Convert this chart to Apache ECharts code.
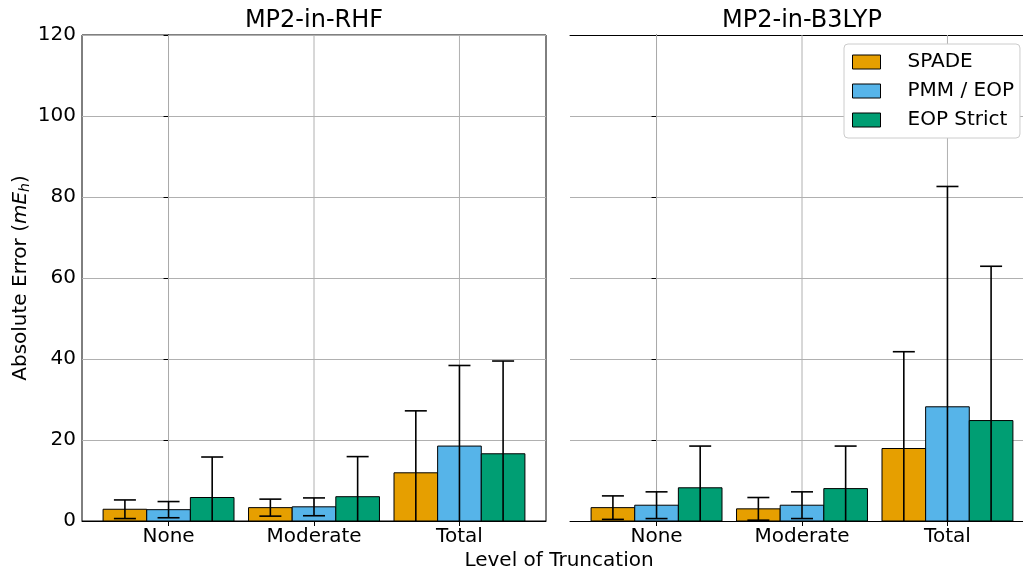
<!DOCTYPE html>
<html>
<head>
<meta charset="utf-8">
<script src="https://cdn.jsdelivr.net/npm/echarts@6/dist/echarts.min.js"></script>
<style>html,body{margin:0;padding:0;background:#fff;overflow:hidden}#c{width:1023px;height:568px}</style>
</head>
<body>
<div id="c"></div>
<script>
// ---- data ----
const categories = ['None', 'Moderate', 'Total'];
const seriesNames = ['SPADE', 'PMM / EOP', 'EOP Strict'];
const panelTitles = ['MP2-in-RHF', 'MP2-in-B3LYP'];
const yTicks = [0, 20, 40, 60, 80, 100, 120];

const rhfSpade = [2.9, 3.3, 11.9];
const rhfSpadeErr = [2.3, 2.1, 15.3];
const rhfPmm = [2.8, 3.5, 18.5];
const rhfPmmErr = [2.0, 2.2, 19.9];
const rhfEop = [5.8, 6.0, 16.6];
const rhfEopErr = [10.0, 9.9, 22.9];

const b3Spade = [3.3, 3.0, 17.9];
const b3SpadeErr = [2.9, 2.8, 23.9];
const b3Pmm = [3.9, 3.9, 28.2];
const b3PmmErr = [3.3, 3.3, 54.4];
const b3Eop = [8.2, 8.0, 24.8];
const b3EopErr = [10.3, 10.5, 38.1];

// ---- styling / layout ----
const colors = ['#E69F00', '#56B4E9', '#009E73'];
const FONT = 'DejaVu Sans';
const BAR_W = 0.3;
const CAP_PX = 11;
const gridLineColor = '#b0b0b0';
const X_MIN = -0.595, X_MAX = 2.595;
const PANEL_W = 464;
// the right panel is cut off by the figure edge: show only the visible part of its x range
const RIGHT_VISIBLE_W = 453;
const RIGHT_X_MAX = X_MIN + (X_MAX - X_MIN) * RIGHT_VISIBLE_W / PANEL_W;

const panels = [
  { values: [rhfSpade, rhfPmm, rhfEop], errors: [rhfSpadeErr, rhfPmmErr, rhfEopErr] },
  { values: [b3Spade, b3Pmm, b3Eop], errors: [b3SpadeErr, b3PmmErr, b3EopErr] }
];

const grids = [
  { left: 82, top: 35, width: PANEL_W, height: 486, show: true, borderColor: '#000', borderWidth: 1, backgroundColor: 'transparent' },
  { left: 570, top: 35, width: RIGHT_VISIBLE_W, height: 486, show: false }
];

const xAxes = grids.map((g, gi) => ({
  type: 'value', gridIndex: gi, min: X_MIN, max: gi === 0 ? X_MAX : RIGHT_X_MAX,
  axisLine: { show: true, lineStyle: { color: '#000', width: 1 } },
  axisTick: { show: true, length: 5, customValues: categories.map((c, i) => i), lineStyle: { color: '#000' } },
  axisLabel: { show: true, customValues: categories.map((c, i) => i), formatter: v => categories[Math.round(v)] || '',
               color: '#000', fontSize: 20, fontFamily: FONT, margin: 6 },
  splitLine: { show: false }
}));
// top spine of the right panel
xAxes.push({
  type: 'value', gridIndex: 1, position: 'top', min: X_MIN, max: RIGHT_X_MAX,
  axisLine: { show: true, lineStyle: { color: '#000', width: 1 } },
  axisTick: { show: false }, axisLabel: { show: false }, splitLine: { show: false }
});

const yAxes = grids.map((g, gi) => ({
  type: 'value', gridIndex: gi, min: yTicks[0], max: yTicks[yTicks.length - 1], interval: yTicks[1] - yTicks[0],
  axisLine: { show: true, lineStyle: { color: '#000', width: 1 } },
  axisTick: { show: true, length: 5, lineStyle: { color: '#000' } },
  axisLabel: { show: gi === 0, color: '#000', fontSize: 20, fontFamily: FONT, margin: 6 },
  splitLine: { show: true, lineStyle: { color: gridLineColor, width: 1 } },
  name: gi === 0 ? 'Absolute Error ({it|mE}{sub|h})' : '',
  nameLocation: 'middle', nameGap: 50, nameRotate: 90,
  nameTextStyle: {
    color: '#000', fontSize: 20, fontFamily: FONT,
    rich: {
      it: { fontStyle: 'italic', fontSize: 20, fontFamily: FONT, color: '#000' },
      sub: { fontStyle: 'italic', fontSize: 14, fontFamily: FONT, color: '#000', verticalAlign: 'bottom', padding: [8, 0, 0, 0] }
    }
  }
}));

const series = [];
// vertical grid lines at category centres
panels.forEach((p, gi) => {
  series.push({
    type: 'custom', xAxisIndex: gi, yAxisIndex: gi, silent: true, z: 1,
    data: categories.map((c, i) => [i]),
    encode: { x: 0 },
    renderItem: (params, api) => {
      const i = api.value(0);
      const a = api.coord([i, yTicks[0]]);
      const b = api.coord([i, yTicks[yTicks.length - 1]]);
      return { type: 'line', shape: { x1: a[0], y1: a[1], x2: b[0], y2: b[1] },
               style: { stroke: gridLineColor, lineWidth: 1 } };
    }
  });
});

function makeRender(k) {
  return function (params, api) {
    const i = api.value(0), v = api.value(1), e = api.value(2);
    const xc = i + (k - 1) * BAR_W;
    const tl = api.coord([xc - BAR_W / 2, v]);
    const br = api.coord([xc + BAR_W / 2, 0]);
    const cx = api.coord([xc, 0])[0];
    const topY = api.coord([xc, v + e])[1];
    const lowV = v - e;
    const botY = api.coord([xc, Math.max(0, lowV)])[1];
    const children = [
      { type: 'rect', shape: { x: tl[0], y: tl[1], width: br[0] - tl[0], height: br[1] - tl[1] },
        style: { fill: api.visual('color'), stroke: '#000', lineWidth: 1 } },
      { type: 'line', shape: { x1: cx, y1: botY, x2: cx, y2: topY }, style: { stroke: '#000', lineWidth: 1.6 } },
      { type: 'line', shape: { x1: cx - CAP_PX, y1: topY, x2: cx + CAP_PX, y2: topY }, style: { stroke: '#000', lineWidth: 1.6 } }
    ];
    if (lowV >= 0) {
      children.push({ type: 'line', shape: { x1: cx - CAP_PX, y1: botY, x2: cx + CAP_PX, y2: botY }, style: { stroke: '#000', lineWidth: 1.6 } });
    }
    return { type: 'group', children };
  };
}

panels.forEach((p, gi) => {
  seriesNames.forEach((name, k) => {
    series.push({
      type: 'custom', name, xAxisIndex: gi, yAxisIndex: gi, z: 3,
      itemStyle: { color: colors[k], borderColor: '#000', borderWidth: 1 },
      data: categories.map((c, i) => [i, p.values[k][i], p.errors[k][i]]),
      encode: { x: 0, y: 1 },
      renderItem: makeRender(k)
    });
  });
});

const chart = echarts.init(document.getElementById('c'), null, { renderer: 'canvas' });
chart.setOption({
  animation: false,
  backgroundColor: '#fff',
  textStyle: { fontFamily: FONT },
  grid: grids,
  xAxis: xAxes,
  yAxis: yAxes,
  legend: {
    data: seriesNames, orient: 'vertical', left: 844, top: 44,
    icon: 'rect', itemWidth: 28, itemHeight: 14, itemGap: 7,
    padding: [7, 6, 7, 8],
    backgroundColor: '#fff', borderColor: '#cccccc', borderWidth: 1, borderRadius: 4,
    itemStyle: { borderColor: '#000', borderWidth: 1 },
    textStyle: { color: '#000', fontSize: 20, fontFamily: FONT, lineHeight: 22, padding: [0, 0, 0, 22] }
  },
  graphic: [
    { type: 'text', x: 314, y: 21, style: { text: panelTitles[0], textAlign: 'center', textVerticalAlign: 'middle', fontSize: 24, fontFamily: FONT, fill: '#000' } },
    { type: 'text', x: 802, y: 21, style: { text: panelTitles[1], textAlign: 'center', textVerticalAlign: 'middle', fontSize: 24, fontFamily: FONT, fill: '#000' } },
    { type: 'text', x: 559, y: 561, style: { text: 'Level of Truncation', textAlign: 'center', textVerticalAlign: 'middle', fontSize: 20, fontFamily: FONT, fill: '#000' } }
  ],
  series
});
</script>
</body>
</html>
